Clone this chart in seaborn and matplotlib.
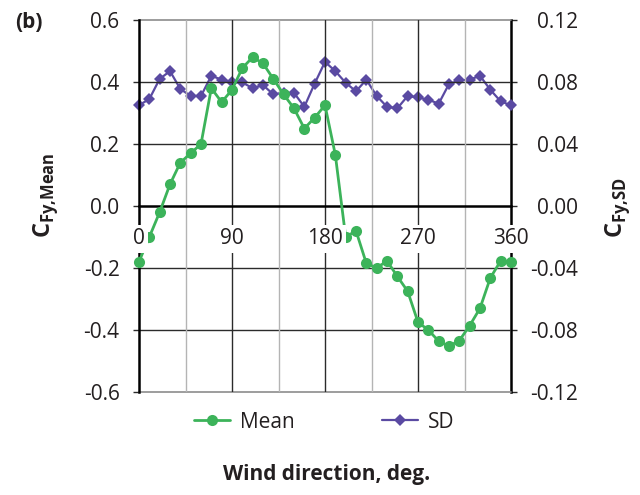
import matplotlib
matplotlib.use("Agg")
import matplotlib.pyplot as plt
import pandas as pd
import seaborn as sns

# Wind direction (deg) and side-force coefficients
angles = list(range(0, 361, 10))
mean_cfy = [-0.18, -0.10, -0.02, 0.07, 0.14, 0.17, 0.20, 0.38, 0.335, 0.375,
            0.445, 0.48, 0.46, 0.41, 0.36, 0.315, 0.25, 0.285, 0.325, 0.165,
            -0.10, -0.08, -0.185, -0.20, -0.177, -0.227, -0.275, -0.375, -0.40,
            -0.436, -0.452, -0.434, -0.386, -0.33, -0.232, -0.177, -0.182]
sd_cfy = [0.065, 0.069, 0.082, 0.087, 0.0755, 0.071, 0.071, 0.084, 0.0815, 0.080,
          0.0797, 0.076, 0.078, 0.072, 0.073, 0.073, 0.064, 0.079, 0.093, 0.087,
          0.0795, 0.074, 0.0815, 0.071, 0.064, 0.063, 0.071, 0.070, 0.0686, 0.066,
          0.0787, 0.081, 0.0815, 0.084, 0.075, 0.0675, 0.065]

x_ticks = [0, 90, 180, 270, 360]
left_ticks = [-0.6, -0.4, -0.2, 0.0, 0.2, 0.4, 0.6]
left_labels = ["-0.6", "-0.4", "-0.2", "0.0", "0.2", "0.4", "0.6"]
right_ticks = [-0.12, -0.08, -0.04, 0.0, 0.04, 0.08, 0.12]
right_labels = ["-0.12", "-0.08", "-0.04", "0.00", "0.04", "0.08", "0.12"]

GREEN = "#3cb35a"
PURPLE = "#5a4aa2"
DARK = "#2b2b2b"
TEXT = "#231f20"

sns.set_theme(style="white")
plt.rcParams["font.family"] = ["Open Sans", "DejaVu Sans"]
plt.rcParams["axes.unicode_minus"] = False
plt.rcParams["mathtext.fontset"] = "custom"
plt.rcParams["mathtext.bf"] = "Open Sans:bold"
plt.rcParams["mathtext.rm"] = "Open Sans"

df = pd.DataFrame({"angle": angles, "mean": mean_cfy, "sd": sd_cfy})

fig = plt.figure(figsize=(6.4, 4.95), dpi=100)
ax = fig.add_axes([139 / 640, 103 / 495, 372 / 640, 372 / 495])
ax2 = ax.twinx()
ax.set_zorder(2)
ax2.set_zorder(1)
ax.patch.set_visible(False)

# grid
for v in [-0.4, -0.2, 0.2, 0.4]:
    ax.axhline(v, color=DARK, lw=1.0, zorder=0.8)
for v in [-0.6, 0.6]:
    ax.axhline(v, color="#8c8c8c", lw=1.2, zorder=0.8, clip_on=False)
for v in [90, 180, 270]:
    ax.axvline(v, color=DARK, lw=1.0, zorder=0.8)
for v in [45, 135, 225, 315]:
    ax.axvline(v, color="#b4b4b4", lw=1.0, zorder=0.8)

sns.lineplot(data=df, x="angle", y="mean", ax=ax, color=GREEN, marker="o",
             markersize=8, markeredgewidth=0, linewidth=2.0, label="Mean",
             legend=False, zorder=2.7, clip_on=False)
sns.lineplot(data=df, x="angle", y="sd", ax=ax2, color=PURPLE, marker="D",
             markersize=6.5, markeredgewidth=0, linewidth=1.6, label="SD",
             legend=False, zorder=2.7, clip_on=False)

ax.set_xlim(0, 360)
ax.set_ylim(-0.6, 0.6)
ax2.set_ylim(-0.12, 0.12)

# spines
for s in ["top", "right"]:
    ax.spines[s].set_visible(False)
ax.spines["left"].set_color("black")
ax.spines["left"].set_linewidth(1.8)
ax.spines["bottom"].set_position(("data", 0))
ax.spines["bottom"].set_color("black")
ax.spines["bottom"].set_linewidth(1.8)
for s in ["top", "bottom", "left"]:
    ax2.spines[s].set_visible(False)
ax2.spines["right"].set_color("black")
ax2.spines["right"].set_linewidth(1.8)

# ticks
ax.set_xticks(x_ticks, labels=[str(t) for t in x_ticks])
ax.tick_params(axis="x", length=0, pad=16, labelsize=15, colors=TEXT)
for lbl in ax.get_xticklabels():
    lbl.set_bbox(dict(facecolor="white", edgecolor="none", pad=2.5))
ax.xaxis.set_zorder(3)

ax.set_yticks(left_ticks, labels=left_labels)
ax.tick_params(axis="y", direction="out", length=4, width=1.0, color=DARK,
               pad=10, labelsize=15, labelcolor=TEXT)
ax2.set_yticks(right_ticks, labels=right_labels)
ax2.tick_params(axis="y", direction="out", length=4, width=1.0, color=DARK,
                pad=44, labelsize=15, labelcolor=TEXT)
for lbl in ax2.get_yticklabels():
    lbl.set_horizontalalignment("right")

# axis titles
ax.set_xlabel("Wind direction, deg.", fontsize=15, fontweight="bold",
              color=TEXT, va="center")
ax.xaxis.set_label_coords(0.505, -0.222)
ax.set_ylabel(r"$\mathbf{C}_{\mathbf{Fy{,}Mean}}$", fontsize=17,
              color=TEXT, va="center", ha="center")
ax.yaxis.set_label_coords(-0.25, 0.53)
ax2.set_ylabel(r"$\mathbf{C}_{\mathbf{Fy{,}SD}}$", fontsize=17,
               color=TEXT, va="center", ha="center")
ax2.yaxis.set_label_coords(1.285, 0.495)

fig.text(29 / 640, 1 - 22 / 495, "(b)", ha="center", va="center",
         fontsize=15, fontweight="bold", color=TEXT)

h1, l1 = ax.get_legend_handles_labels()
h2, l2 = ax2.get_legend_handles_labels()
fig.legend(h1 + h2, l1 + l2, loc="center", bbox_to_anchor=(324 / 640, 1 - 422 / 495),
           ncol=2, frameon=False, handlelength=1.75, handletextpad=0.45,
           columnspacing=4.2, fontsize=15, labelcolor=TEXT)

fig.savefig("out.png", dpi=100)
